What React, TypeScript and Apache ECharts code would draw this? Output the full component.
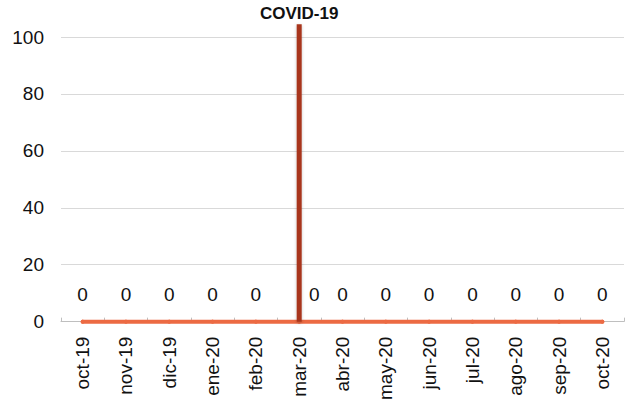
import React, { useEffect, useRef } from "react";
import * as echarts from "echarts";

const categories = ["oct-19", "nov-19", "dic-19", "ene-20", "feb-20", "mar-20", "abr-20", "may-20", "jun-20", "jul-20", "ago-20", "sep-20", "oct-20"];
const casos = [0, 0, 0, 0, 0, 0, 0, 0, 0, 0, 0, 0, 0];
const covidMarker = [null, null, null, null, null, 104.5, null, null, null, null, null, null, null];
const covidLabel = "COVID-19";
const yTicks = { min: 0, max: 100, interval: 20 };

const FONT = "'Liberation Sans', Arial, sans-serif";

export default function App() {
  const ref = useRef<HTMLDivElement>(null);
  useEffect(() => {
    if (!ref.current) return;
    const chart = echarts.init(ref.current, undefined, { renderer: "svg" });
    chart.setOption({
      animation: false,
      grid: { left: 61, right: 1, top: 37, bottom: 80, containLabel: false },
      xAxis: {
        type: "category",
        data: categories,
        axisLine: { show: true, lineStyle: { color: "#BFBFBF", width: 1 } },
        axisTick: { show: true, inside: true, length: 4, lineStyle: { color: "#BFBFBF" } },
        axisLabel: { rotate: 90, margin: 15, fontSize: 19, color: "#111", fontFamily: FONT },
        splitLine: { show: false },
      },
      yAxis: {
        type: "value",
        min: yTicks.min,
        max: yTicks.max,
        interval: yTicks.interval,
        axisLine: { show: false },
        axisTick: { show: false },
        axisLabel: { fontSize: 19, color: "#111", margin: 17, fontFamily: FONT },
        splitLine: { lineStyle: { color: "#D9D9D9", width: 1 } },
      },
      series: [
        {
          type: "line",
          data: casos.map((v, i) =>
            i === 5 ? { value: v, label: { offset: [15, 0] } } : v
          ),
          clip: false,
          symbol: "circle",
          symbolSize: 4,
          itemStyle: { color: "#EC6A43" },
          lineStyle: { color: "#EC6A43", width: 4, cap: "round" },
          label: { show: true, position: "top", distance: 16, fontSize: 19, color: "#111", fontFamily: FONT },
          z: 5,
        },
        {
          type: "bar",
          data: covidMarker,
          barWidth: 5,
          clip: false,
          itemStyle: { color: "#A8361C", shadowBlur: 3, shadowColor: "rgba(0,0,0,0.25)", shadowOffsetY: 1 },
          label: {
            show: true,
            position: "top",
            distance: 2,
            formatter: () => covidLabel,
            fontSize: 17,
            fontWeight: "bold",
            color: "#111",
            fontFamily: FONT,
          },
          z: 6,
        },
      ],
    });
    return () => chart.dispose();
  }, []);
  return (
    <div
      ref={ref}
      style={{ position: "fixed", left: 0, top: 0, width: 625, height: 403, background: "#fff" }}
    />
  );
}
